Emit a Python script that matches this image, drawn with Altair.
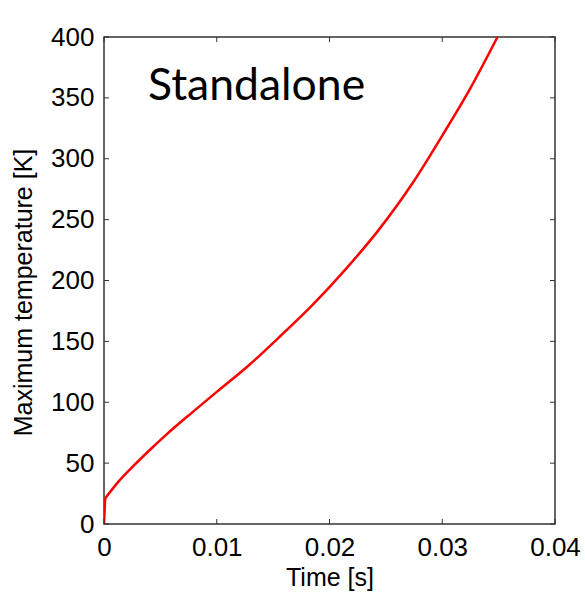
import altair as alt
import pandas as pd

# Peak temperature history of the standalone case
time_s = [0.0, 0.0001, 0.0013, 0.0027, 0.0042, 0.0056, 0.0078, 0.0100, 0.0128,
          0.0156, 0.0185, 0.0215, 0.0244, 0.0273, 0.0300, 0.0325, 0.0349]
max_temp_k = [0, 21, 35, 48.5, 62, 74, 91.5, 108.5, 130,
              154, 180, 210, 242, 279, 319, 358, 400]

x_ticks = [0.0, 0.01, 0.02, 0.03, 0.04]
y_ticks = [0, 50, 100, 150, 200, 250, 300, 350, 400]

W, H = 451, 487
TICK = 5
AXIS_FONT = "Liberation Sans"
INK = "#333333"

# the initial jump (first two samples) is drawn as its own piece so the
# smooth interpolation of the rest keeps a sharp corner at the jump
rows = [{"t": time_s[0], "T": max_temp_k[0], "piece": "jump"},
        {"t": time_s[1], "T": max_temp_k[1], "piece": "jump"}]
rows += [{"t": t, "T": v, "piece": "rise"} for t, v in zip(time_s[1:], max_temp_k[1:])]
curve = pd.DataFrame(rows)
xt = pd.DataFrame({"t": x_ticks})
yt = pd.DataFrame({"T": y_ticks})

x_enc = alt.X(
    "t:Q",
    scale=alt.Scale(domain=[0, 0.04], nice=False, zero=False),
    axis=alt.Axis(title="Time [s]", values=x_ticks, labelFlush=False,
                  labelExpr="datum.value == 0 ? '0' : format(datum.value, '.2f')",
                  labelPadding=10, titlePadding=5),
)
y_enc = alt.Y(
    "T:Q",
    scale=alt.Scale(domain=[0, 400], nice=False, zero=False),
    axis=alt.Axis(title="Maximum temperature [K]", values=y_ticks, labelFlush=False,
                  labelPadding=10, titlePadding=14, titleY=255),
)

line = alt.Chart(curve).mark_line(
    color="#ff0000", strokeWidth=2.5, clip=True, interpolate="monotone"
).encode(x=x_enc, y=y_enc, detail="piece:N")

# inward tick marks on all four sides of the box
x_bottom = alt.Chart(xt).mark_rule(color=INK, strokeWidth=1).encode(
    x=x_enc, y=alt.value(H), y2=alt.value(H - TICK))
x_top = alt.Chart(xt).mark_rule(color=INK, strokeWidth=1).encode(
    x=x_enc, y=alt.value(0), y2=alt.value(TICK))
y_left = alt.Chart(yt).mark_rule(color=INK, strokeWidth=1).encode(
    y=y_enc, x=alt.value(0), x2=alt.value(TICK))
y_right = alt.Chart(yt).mark_rule(color=INK, strokeWidth=1).encode(
    y=y_enc, x=alt.value(W), x2=alt.value(W - TICK))

label = alt.Chart(pd.DataFrame({"txt": ["Standalone"]})).mark_text(
    font="Lato", fontSize=44.5, align="left", baseline="alphabetic", color="black"
).encode(text="txt:N", x=alt.value(44), y=alt.value(63))

chart = alt.layer(line, x_bottom, x_top, y_left, y_right, label).properties(
    width=W, height=H,
    autosize=alt.AutoSizeParams(type="none"),
    padding={"left": 104, "top": 37, "right": 30, "bottom": 69},
    background="white",
).configure_view(
    stroke=INK, strokeWidth=1.5
).configure_axis(
    domain=False, ticks=False, grid=False,
    labelFont=AXIS_FONT, labelFontSize=26, labelColor="black",
    titleFont=AXIS_FONT, titleFontSize=25, titleFontWeight="normal", titleColor="black",
)

chart.save("out.html", embed_options={"renderer": "svg", "actions": False})
